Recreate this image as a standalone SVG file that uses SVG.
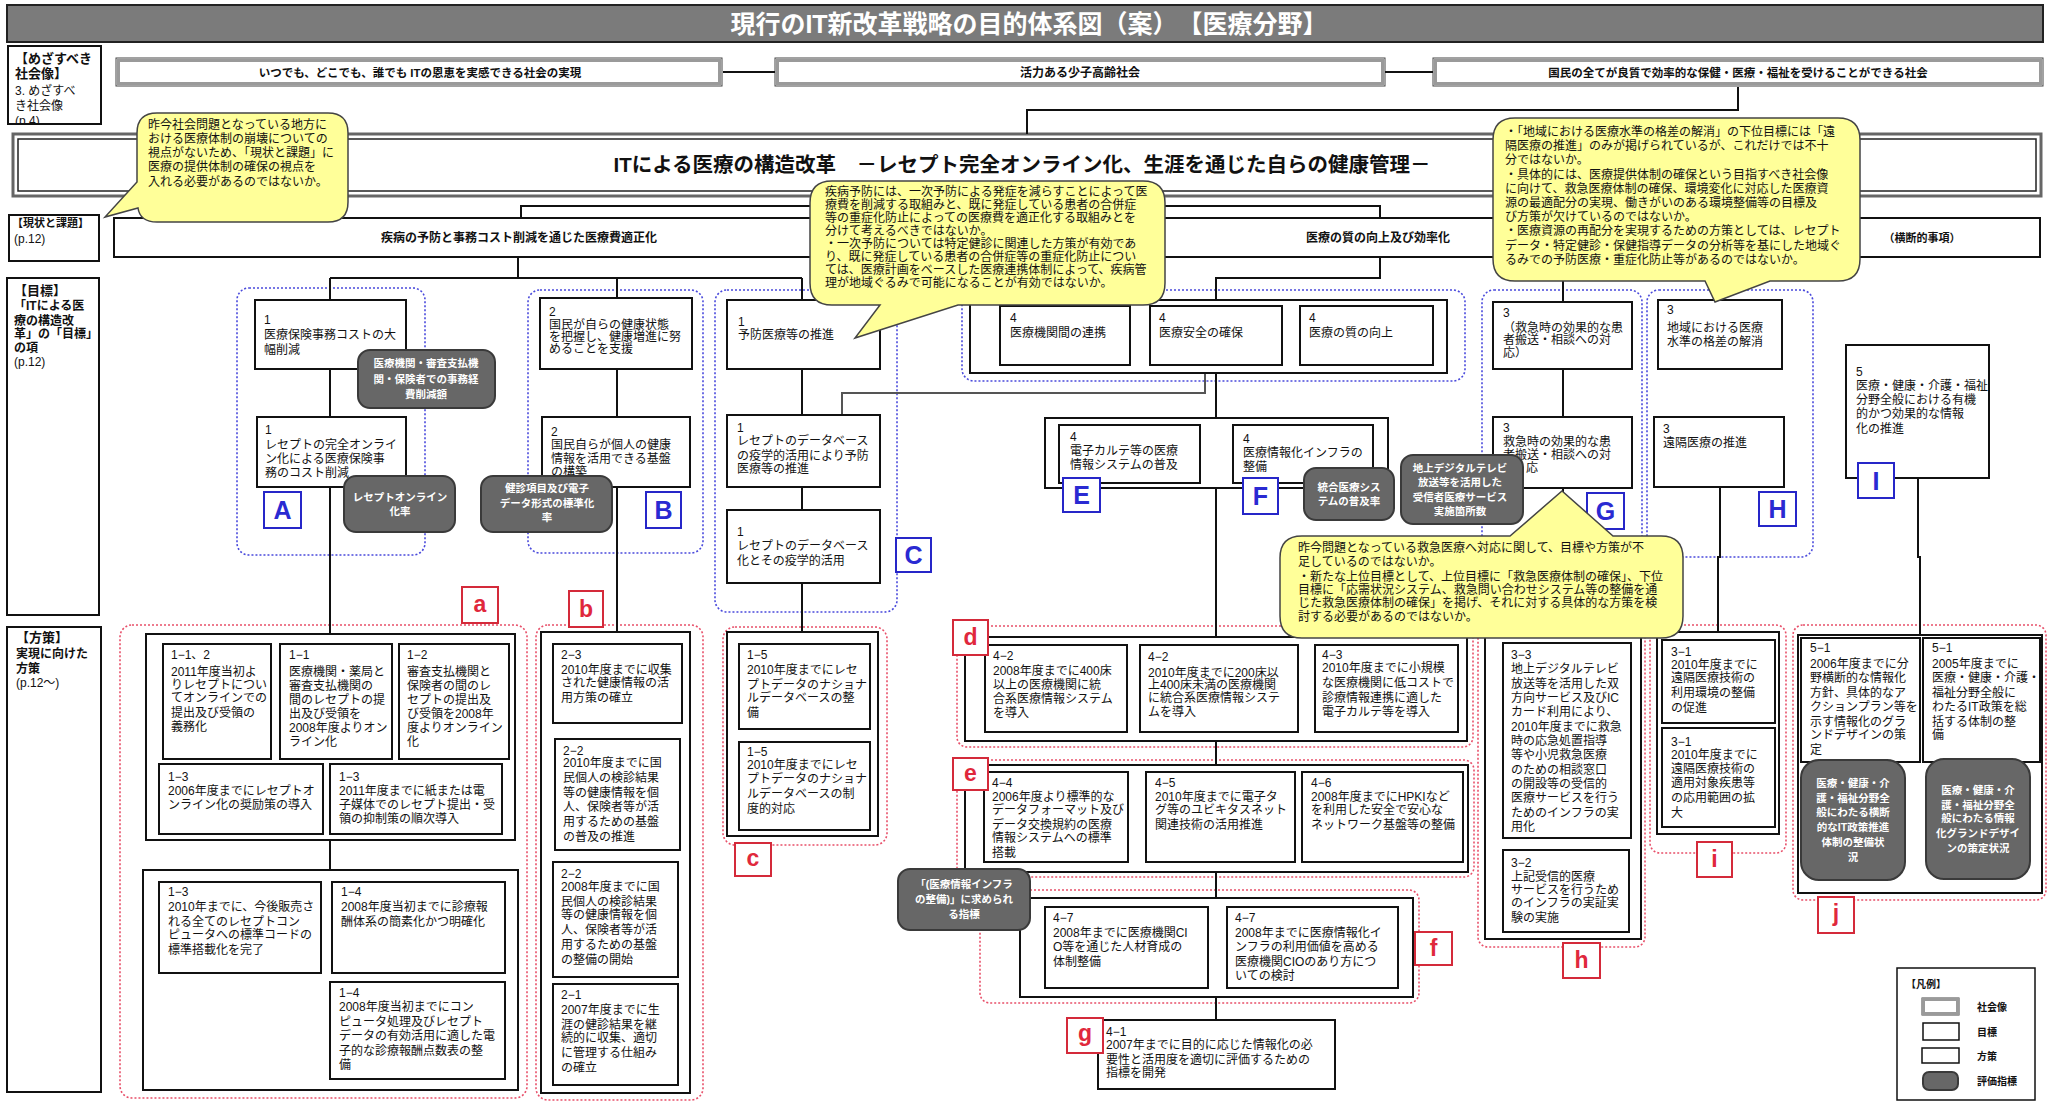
<svg xmlns="http://www.w3.org/2000/svg" width="2049" height="1102" viewBox="0 0 2049 1102">
<style>
text{font-family:'Liberation Sans','Noto Sans CJK JP',sans-serif;fill:#111}
.t{font-size:12px}
.b{font-weight:bold}
.wt{fill:#fff}
.box{fill:#fff;stroke:#111;stroke-width:2}
.soc1{fill:#fff;stroke:#444;stroke-width:1}
.soc2{fill:none;stroke:#9a9a9a;stroke-width:3}
.bg{fill:none;stroke:#4a4adc;stroke-width:1.6;stroke-dasharray:2 2}
.rg{fill:none;stroke:#e8506a;stroke-width:1.6;stroke-dasharray:2 2}
.ln{fill:none;stroke:#111;stroke-width:2}
.ev{fill:#676767;stroke:#3a3a3a;stroke-width:2}
.evt{font-size:10.5px;font-weight:bold;fill:#fff;text-anchor:middle}
.lbB{fill:#fff;stroke:#2626c8;stroke-width:2}
.ltB{font-size:25px;font-weight:bold;fill:#2a2ad2;text-anchor:middle}
.lbR{fill:#fff;stroke:#d42a3a;stroke-width:2}
.ltR{font-size:23px;font-weight:bold;fill:#e0283c;text-anchor:middle}
.cal{fill:#ffff99;stroke:#444;stroke-width:1.5}
</style>
<defs><clipPath id="cp1"><rect x="8" y="46" width="93" height="77"/></clipPath></defs>

<g id="title"><rect x="7" y="5" width="2036" height="37" fill="#7b7b7b" stroke="#222" stroke-width="2"/><text x="1029" y="33" text-anchor="middle" font-size="25" class="b wt">現行のIT新改革戦略の目的体系図（案）　【医療分野】</text></g>

<g id="hdr-society"><rect x="8" y="46" width="93" height="78" class="box"/><text class="t" clip-path="url(#cp1)"><tspan x="15" y="63" class="b" font-size="13">【めざすべき</tspan><tspan x="15" y="78" class="b" font-size="13">社会像】</tspan><tspan x="15" y="95">3. めざすべ</tspan><tspan x="15" y="110">き社会像</tspan><tspan x="15" y="125">(p.4)</tspan></text></g>
<g id="hdr-situation"><rect x="9" y="215" width="90" height="46" class="box"/><text class="t"><tspan x="12" y="227" class="b" font-size="11">【現状と課題】</tspan><tspan x="14" y="243">(p.12)</tspan></text></g>
<g id="hdr-goal"><rect x="7" y="278" width="92" height="337" class="box"/><text class="t"><tspan x="14" y="295" class="b" font-size="13">【目標】</tspan><tspan x="14" y="310" class="b">「ITによる医</tspan><tspan x="14" y="325" class="b">療の構造改</tspan><tspan x="14" y="338" class="b">革」の「目標」</tspan><tspan x="14" y="352" class="b">の項</tspan><tspan x="14" y="366">(p.12)</tspan></text></g>
<g id="hdr-measure"><rect x="7" y="627" width="94" height="465" class="box"/><text class="t"><tspan x="16" y="642" class="b" font-size="13">【方策】</tspan><tspan x="16" y="658" class="b">実現に向けた</tspan><tspan x="16" y="673" class="b">方策</tspan><tspan x="16" y="687">(p.12〜)</tspan></text></g>

<g id="society1"><rect x="116" y="58" width="606" height="28" class="soc1"/><rect x="118.5" y="60.5" width="601" height="23" class="soc2"/><text x="420" y="77" text-anchor="middle" font-size="11.5" class="b">いつでも、どこでも、誰でも ITの恩恵を実感できる社会の実現</text></g>
<g id="society2"><rect x="775" y="58" width="610" height="28" class="soc1"/><rect x="777.5" y="60.5" width="605" height="23" class="soc2"/><text x="1080" y="77" text-anchor="middle" font-size="12" class="b">活力ある少子高齢社会</text></g>
<g id="society3"><rect x="1433" y="58" width="610" height="28" class="soc1"/><rect x="1435.5" y="60.5" width="605" height="23" class="soc2"/><text x="1738" y="77" text-anchor="middle" font-size="11.5" class="b">国民の全てが良質で効率的な保健・医療・福祉を受けることができる社会</text></g>

<g id="vision"><rect x="13" y="134" width="2028" height="62" fill="#fff" stroke="#666" stroke-width="3"/><rect x="18" y="139" width="2018" height="52" fill="none" stroke="#222" stroke-width="1.5"/><text x="1022" y="172" text-anchor="middle" font-size="20.5" class="b">ITによる医療の構造改革　－レセプト完全オンライン化、生涯を通じた自らの健康管理－</text></g>

<g id="situation"><rect x="114" y="218" width="1926" height="39" class="box"/><text class="t b"><tspan x="519" y="242" text-anchor="middle">疾病の予防と事務コスト削減を通じた医療費適正化</tspan><tspan x="1378" y="242" text-anchor="middle">医療の質の向上及び効率化</tspan><tspan x="1922" y="242" text-anchor="middle" font-size="11">（横断的事項）</tspan></text></g>

<g id="groups">
<rect x="237" y="288" width="188" height="267" rx="12" class="bg"/>
<rect x="528" y="290" width="175" height="263" rx="12" class="bg"/>
<rect x="715" y="290" width="182" height="322" rx="12" class="bg"/>
<rect x="962" y="290" width="503" height="91" rx="12" class="bg"/>
<rect x="1482" y="290" width="160" height="265" rx="12" class="bg"/>
<rect x="1647" y="290" width="166" height="267" rx="12" class="bg"/>
<rect x="120" y="625" width="407" height="473" rx="12" class="rg"/>
<rect x="536" y="625" width="167" height="475" rx="12" class="rg"/>
<rect x="723" y="627" width="164" height="218" rx="12" class="rg"/>
<rect x="957" y="626" width="516" height="121" rx="10" class="rg"/>
<rect x="957" y="760" width="517" height="117" rx="10" class="rg"/>
<rect x="980" y="890" width="439" height="113" rx="10" class="rg"/>
<rect x="1478" y="625" width="167" height="322" rx="10" class="rg"/>
<rect x="1650" y="625" width="136" height="228" rx="10" class="rg"/>
<rect x="1793" y="625" width="253" height="275" rx="10" class="rg"/>
</g>

<g id="connectors">
<path class="ln" d="M723,72H775M1385,72H1433M1738,87V110H1027V134"/>
<path class="ln" d="M950,196V206M521,218V206H1380V218"/>
<path class="ln" d="M518,257V278M330,278H802M330,278V300M617,278V298M802,278V300"/>
<path class="ln" d="M330,369V417M330,487V634M330,840V870"/>
<path class="ln" d="M617,369V417M617,487V632M617,723V739M617,977V984"/>
<path class="ln" d="M802,369V415M802,487V510M802,583V632"/>
<path class="ln" d="M1380,257V278H1216V300M1216,373V418M1216,488V637M1216,741V765M1216,872V898M1216,997V1020"/>
<path d="M1205,365V393H842V415" fill="none" stroke="#555" stroke-width="2"/>
<path class="ln" d="M1563,257V302M1563,369V417M1563,488V637"/>
<path class="ln" d="M1720,487V557H1718V632M1918,478V557H1920V635"/>
</g>

<g id="outer-boxes">
<rect x="146" y="634" width="369" height="206" class="box"/>
<rect x="143" y="870" width="375" height="220" class="box"/>
<rect x="541" y="632" width="149" height="461" class="box"/>
<rect x="727" y="632" width="151" height="204" class="box"/>
<rect x="965" y="637" width="502" height="104" class="box"/>
<rect x="965" y="765" width="503" height="107" class="box"/>
<rect x="1020" y="898" width="393" height="99" class="box"/>
<rect x="1485" y="637" width="156" height="302" class="box"/>
<rect x="1657" y="632" width="122" height="202" class="box"/>
<rect x="1798" y="635" width="244" height="258" class="box"/>
<rect x="970" y="300" width="477" height="73" class="box"/>
<rect x="1045" y="418" width="343" height="70" class="box"/>
</g>

<g id="A1"><rect x="255" y="300" width="151" height="69" class="box"/><text class="t"><tspan x="264" y="324">1</tspan><tspan x="264" y="339">医療保険事務コストの大</tspan><tspan x="264" y="354">幅削減</tspan></text></g>
<g id="A2"><rect x="257" y="417" width="149" height="70" class="box"/><text class="t"><tspan x="265" y="434">1</tspan><tspan x="265" y="449">レセプトの完全オンライ</tspan><tspan x="265" y="463">ン化による医療保険事</tspan><tspan x="265" y="477">務のコスト削減</tspan></text></g>
<g id="B1"><rect x="540" y="298" width="152" height="71" class="box"/><text class="t"><tspan x="549" y="316">2</tspan><tspan x="549" y="329">国民が自らの健康状態</tspan><tspan x="549" y="341">を把握し、健康増進に努</tspan><tspan x="549" y="353">めることを支援</tspan></text></g>
<g id="B2"><rect x="542" y="417" width="148" height="70" class="box"/><text class="t"><tspan x="551" y="436">2</tspan><tspan x="551" y="449">国民自らが個人の健康</tspan><tspan x="551" y="463">情報を活用できる基盤</tspan><tspan x="551" y="476">の構築</tspan></text></g>
<g id="C1"><rect x="727" y="300" width="153" height="69" class="box"/><text class="t"><tspan x="738" y="326">1</tspan><tspan x="738" y="339">予防医療等の推進</tspan></text></g>
<g id="C2"><rect x="727" y="415" width="153" height="72" class="box"/><text class="t"><tspan x="737" y="432">1</tspan><tspan x="737" y="445">レセプトのデータベース</tspan><tspan x="737" y="460">の疫学的活用により予防</tspan><tspan x="737" y="473">医療等の推進</tspan></text></g>
<g id="C3"><rect x="727" y="510" width="153" height="73" class="box"/><text class="t"><tspan x="737" y="536">1</tspan><tspan x="737" y="550">レセプトのデータベース</tspan><tspan x="737" y="565">化とその疫学的活用</tspan></text></g>
<g id="D1"><rect x="1000" y="306" width="130" height="59" class="box"/><text class="t"><tspan x="1010" y="322">4</tspan><tspan x="1010" y="337">医療機関間の連携</tspan></text></g>
<g id="D2"><rect x="1150" y="306" width="132" height="59" class="box"/><text class="t"><tspan x="1159" y="322">4</tspan><tspan x="1159" y="337">医療安全の確保</tspan></text></g>
<g id="D3"><rect x="1300" y="306" width="133" height="59" class="box"/><text class="t"><tspan x="1309" y="322">4</tspan><tspan x="1309" y="337">医療の質の向上</tspan></text></g>
<g id="E"><rect x="1059" y="425" width="141" height="58" class="box"/><text class="t"><tspan x="1070" y="441">4</tspan><tspan x="1070" y="455">電子カルテ等の医療</tspan><tspan x="1070" y="469">情報システムの普及</tspan></text></g>
<g id="F"><rect x="1233" y="425" width="140" height="58" class="box"/><text class="t"><tspan x="1243" y="443">4</tspan><tspan x="1243" y="457">医療情報化インフラの</tspan><tspan x="1243" y="471">整備</tspan></text></g>
<g id="G1"><rect x="1493" y="302" width="139" height="67" class="box"/><text class="t"><tspan x="1503" y="317">3</tspan><tspan x="1503" y="332">（救急時の効果的な患</tspan><tspan x="1503" y="344">者搬送・相談への対</tspan><tspan x="1503" y="357">応）</tspan></text></g>
<g id="G2"><rect x="1493" y="417" width="139" height="71" class="box"/><text class="t"><tspan x="1503" y="432">3</tspan><tspan x="1503" y="446">救急時の効果的な患</tspan><tspan x="1503" y="459">者搬送・相談への対</tspan><tspan x="1526" y="472">応</tspan></text></g>
<g id="H1"><rect x="1658" y="300" width="124" height="69" class="box"/><text class="t"><tspan x="1667" y="314">3</tspan><tspan x="1667" y="332">地域における医療</tspan><tspan x="1667" y="346">水準の格差の解消</tspan></text></g>
<g id="H2"><rect x="1654" y="417" width="130" height="70" class="box"/><text class="t"><tspan x="1663" y="433">3</tspan><tspan x="1663" y="447">遠隔医療の推進</tspan></text></g>
<g id="I"><rect x="1846" y="345" width="143" height="133" class="box"/><text class="t" font-size="11"><tspan x="1856" y="376">5</tspan><tspan x="1856" y="390">医療・健康・介護・福祉</tspan><tspan x="1856" y="404">分野全般における有機</tspan><tspan x="1856" y="418">的かつ効果的な情報</tspan><tspan x="1856" y="433">化の推進</tspan></text></g>

<g id="a1"><rect x="163" y="644" width="108" height="115" class="box"/><text class="t"><tspan x="171" y="659">1−1、2</tspan><tspan x="171" y="676">2011年度当初よ</tspan><tspan x="171" y="689">りレセプトについ</tspan><tspan x="171" y="702">てオンラインでの</tspan><tspan x="171" y="717">提出及び受領の</tspan><tspan x="171" y="731">義務化</tspan></text></g>
<g id="a2"><rect x="280" y="644" width="112" height="115" class="box"/><text class="t"><tspan x="289" y="659">1−1</tspan><tspan x="289" y="676">医療機関・薬局と</tspan><tspan x="289" y="690">審査支払機関の</tspan><tspan x="289" y="704">間のレセプトの提</tspan><tspan x="289" y="718">出及び受領を</tspan><tspan x="289" y="732">2008年度よりオン</tspan><tspan x="289" y="746">ライン化</tspan></text></g>
<g id="a3"><rect x="399" y="644" width="110" height="115" class="box"/><text class="t"><tspan x="407" y="659">1−2</tspan><tspan x="407" y="676">審査支払機関と</tspan><tspan x="407" y="690">保険者の間のレ</tspan><tspan x="407" y="704">セプトの提出及</tspan><tspan x="407" y="718">び受領を2008年</tspan><tspan x="407" y="732">度よりオンライン</tspan><tspan x="407" y="746">化</tspan></text></g>
<g id="a4"><rect x="159" y="764" width="164" height="70" class="box"/><text class="t"><tspan x="168" y="781">1−3</tspan><tspan x="168" y="795">2006年度までにレセプトオ</tspan><tspan x="168" y="809">ンライン化の奨励策の導入</tspan></text></g>
<g id="a5"><rect x="330" y="764" width="172" height="70" class="box"/><text class="t"><tspan x="339" y="781">1−3</tspan><tspan x="339" y="795">2011年度までに紙または電</tspan><tspan x="339" y="809">子媒体でのレセプト提出・受</tspan><tspan x="339" y="823">領の抑制策の順次導入</tspan></text></g>
<g id="a6"><rect x="159" y="882" width="162" height="91" class="box"/><text class="t"><tspan x="168" y="896">1−3</tspan><tspan x="168" y="911">2010年までに、今後販売さ</tspan><tspan x="168" y="926">れる全てのレセプトコン</tspan><tspan x="168" y="939">ピュータへの標準コードの</tspan><tspan x="168" y="954">標準搭載化を完了</tspan></text></g>
<g id="a7"><rect x="332" y="882" width="173" height="91" class="box"/><text class="t"><tspan x="341" y="896">1−4</tspan><tspan x="341" y="911">2008年度当初までに診療報</tspan><tspan x="341" y="926">酬体系の簡素化かつ明確化</tspan></text></g>
<g id="a8"><rect x="330" y="982" width="175" height="97" class="box"/><text class="t"><tspan x="339" y="997">1−4</tspan><tspan x="339" y="1011">2008年度当初までにコン</tspan><tspan x="339" y="1026">ピュータ処理及びレセプト</tspan><tspan x="339" y="1040">データの有効活用に適した電</tspan><tspan x="339" y="1055">子的な診療報酬点数表の整</tspan><tspan x="339" y="1069">備</tspan></text></g>

<g id="b1"><rect x="553" y="644" width="129" height="79" class="box"/><text class="t"><tspan x="561" y="659">2−3</tspan><tspan x="561" y="674">2010年度までに収集</tspan><tspan x="561" y="687">された健康情報の活</tspan><tspan x="561" y="702">用方策の確立</tspan></text></g>
<g id="b2"><rect x="555" y="739" width="125" height="111" class="box"/><text class="t"><tspan x="563" y="755">2−2</tspan><tspan x="563" y="767">2010年度までに国</tspan><tspan x="563" y="782">民個人の検診結果</tspan><tspan x="563" y="797">等の健康情報を個</tspan><tspan x="563" y="811">人、保険者等が活</tspan><tspan x="563" y="826">用するための基盤</tspan><tspan x="563" y="841">の普及の推進</tspan></text></g>
<g id="b3"><rect x="553" y="862" width="125" height="115" class="box"/><text class="t"><tspan x="561" y="878">2−2</tspan><tspan x="561" y="891">2008年度までに国</tspan><tspan x="561" y="906">民個人の検診結果</tspan><tspan x="561" y="919">等の健康情報を個</tspan><tspan x="561" y="934">人、保険者等が活</tspan><tspan x="561" y="949">用するための基盤</tspan><tspan x="561" y="964">の整備の開始</tspan></text></g>
<g id="b4"><rect x="553" y="984" width="125" height="101" class="box"/><text class="t"><tspan x="561" y="999">2−1</tspan><tspan x="561" y="1014">2007年度までに生</tspan><tspan x="561" y="1029">涯の健診結果を継</tspan><tspan x="561" y="1042">続的に収集、適切</tspan><tspan x="561" y="1057">に管理する仕組み</tspan><tspan x="561" y="1072">の確立</tspan></text></g>

<g id="c1"><rect x="739" y="644" width="131" height="85" class="box"/><text class="t"><tspan x="747" y="659">1−5</tspan><tspan x="747" y="674">2010年度までにレセ</tspan><tspan x="747" y="689">プトデータのナショナ</tspan><tspan x="747" y="702">ルデータベースの整</tspan><tspan x="747" y="717">備</tspan></text></g>
<g id="c2"><rect x="739" y="742" width="131" height="88" class="box"/><text class="t"><tspan x="747" y="756">1−5</tspan><tspan x="747" y="769">2010年度までにレセ</tspan><tspan x="747" y="783">プトデータのナショナ</tspan><tspan x="747" y="798">ルデータベースの制</tspan><tspan x="747" y="813">度的対応</tspan></text></g>

<g id="d1"><rect x="985" y="645" width="142" height="87" class="box"/><text class="t"><tspan x="993" y="660">4−2</tspan><tspan x="993" y="675">2008年度までに400床</tspan><tspan x="993" y="689">以上の医療機関に統</tspan><tspan x="993" y="703">合系医療情報システム</tspan><tspan x="993" y="717">を導入</tspan></text></g>
<g id="d2"><rect x="1140" y="645" width="158" height="87" class="box"/><text class="t"><tspan x="1148" y="661">4−2</tspan><tspan x="1148" y="677">2010年度までに200床以</tspan><tspan x="1148" y="689">上400床未満の医療機関</tspan><tspan x="1148" y="702">に統合系医療情報システ</tspan><tspan x="1148" y="716">ムを導入</tspan></text></g>
<g id="d3"><rect x="1315" y="645" width="143" height="87" class="box"/><text class="t"><tspan x="1322" y="659">4−3</tspan><tspan x="1322" y="672">2010年度までに小規模</tspan><tspan x="1322" y="687">な医療機関に低コストで</tspan><tspan x="1322" y="702">診療情報連携に適した</tspan><tspan x="1322" y="716">電子カルテ等を導入</tspan></text></g>

<g id="e1"><rect x="984" y="772" width="144" height="90" class="box"/><text class="t"><tspan x="992" y="787">4−4</tspan><tspan x="992" y="801">2006年度より標準的な</tspan><tspan x="992" y="814">データフォーマット及び</tspan><tspan x="992" y="829">データ交換規約の医療</tspan><tspan x="992" y="842">情報システムへの標準</tspan><tspan x="992" y="857">搭載</tspan></text></g>
<g id="e2"><rect x="1146" y="772" width="149" height="90" class="box"/><text class="t"><tspan x="1155" y="787">4−5</tspan><tspan x="1155" y="801">2010年度までに電子タ</tspan><tspan x="1155" y="814">グ等のユビキタスネット</tspan><tspan x="1155" y="829">関連技術の活用推進</tspan></text></g>
<g id="e3"><rect x="1302" y="772" width="161" height="90" class="box"/><text class="t"><tspan x="1311" y="787">4−6</tspan><tspan x="1311" y="801">2008年度までにHPKIなど</tspan><tspan x="1311" y="814">を利用した安全で安心な</tspan><tspan x="1311" y="829">ネットワーク基盤等の整備</tspan></text></g>

<g id="f1"><rect x="1045" y="907" width="163" height="81" class="box"/><text class="t"><tspan x="1053" y="922">4−7</tspan><tspan x="1053" y="937">2008年までに医療機関CI</tspan><tspan x="1053" y="951">O等を通じた人材育成の</tspan><tspan x="1053" y="966">体制整備</tspan></text></g>
<g id="f2"><rect x="1227" y="907" width="171" height="81" class="box"/><text class="t"><tspan x="1235" y="922">4−7</tspan><tspan x="1235" y="937">2008年までに医療情報化イ</tspan><tspan x="1235" y="951">ンフラの利用価値を高める</tspan><tspan x="1235" y="966">医療機関CIOのあり方につ</tspan><tspan x="1235" y="980">いての検討</tspan></text></g>
<g id="g1"><rect x="1098" y="1020" width="237" height="69" class="box"/><text class="t"><tspan x="1106" y="1036">4−1</tspan><tspan x="1106" y="1049">2007年までに目的に応じた情報化の必</tspan><tspan x="1106" y="1064">要性と活用度を適切に評価するための</tspan><tspan x="1106" y="1077">指標を開発</tspan></text></g>

<g id="h1"><rect x="1503" y="643" width="128" height="195" class="box"/><text class="t"><tspan x="1511" y="659">3−3</tspan><tspan x="1511" y="673">地上デジタルテレビ</tspan><tspan x="1511" y="688">放送等を活用した双</tspan><tspan x="1511" y="702">方向サービス及びIC</tspan><tspan x="1511" y="716">カード利用により、</tspan><tspan x="1511" y="731">2010年度までに救急</tspan><tspan x="1511" y="745">時の応急処置指導</tspan><tspan x="1511" y="759">等や小児救急医療</tspan><tspan x="1511" y="774">のための相談窓口</tspan><tspan x="1511" y="788">の開設等の受信的</tspan><tspan x="1511" y="802">医療サービスを行う</tspan><tspan x="1511" y="817">ためのインフラの実</tspan><tspan x="1511" y="831">用化</tspan></text></g>
<g id="h2"><rect x="1503" y="850" width="126" height="82" class="box"/><text class="t"><tspan x="1511" y="867">3−2</tspan><tspan x="1511" y="881">上記受信的医療</tspan><tspan x="1511" y="894">サービスを行うため</tspan><tspan x="1511" y="907">のインフラの実証実</tspan><tspan x="1511" y="922">験の実施</tspan></text></g>
<g id="i1"><rect x="1662" y="640" width="113" height="83" class="box"/><text class="t"><tspan x="1671" y="656">3−1</tspan><tspan x="1671" y="669">2010年度までに</tspan><tspan x="1671" y="682">遠隔医療技術の</tspan><tspan x="1671" y="697">利用環境の整備</tspan><tspan x="1671" y="712">の促進</tspan></text></g>
<g id="i2"><rect x="1662" y="728" width="113" height="99" class="box"/><text class="t"><tspan x="1671" y="746">3−1</tspan><tspan x="1671" y="759">2010年度までに</tspan><tspan x="1671" y="773">遠隔医療技術の</tspan><tspan x="1671" y="787">適用対象疾患等</tspan><tspan x="1671" y="802">の応用範囲の拡</tspan><tspan x="1671" y="817">大</tspan></text></g>
<g id="j1"><rect x="1801" y="638" width="119" height="124" class="box"/><text class="t" font-size="11.5"><tspan x="1810" y="652">5−1</tspan><tspan x="1810" y="668">2006年度までに分</tspan><tspan x="1810" y="682">野横断的な情報化</tspan><tspan x="1810" y="697">方針、具体的なア</tspan><tspan x="1810" y="711">クションプラン等を</tspan><tspan x="1810" y="726">示す情報化のグラ</tspan><tspan x="1810" y="739">ンドデザインの策</tspan><tspan x="1810" y="754">定</tspan></text></g>
<g id="j2"><rect x="1923" y="638" width="117" height="124" class="box"/><text class="t" font-size="11.5"><tspan x="1932" y="652">5−1</tspan><tspan x="1932" y="668">2005年度までに</tspan><tspan x="1932" y="682">医療・健康・介護・</tspan><tspan x="1932" y="697">福祉分野全般に</tspan><tspan x="1932" y="711">わたるIT政策を総</tspan><tspan x="1932" y="726">括する体制の整</tspan><tspan x="1932" y="739">備</tspan></text></g>

<g id="ev-A1"><rect x="358" y="350" width="137" height="58" rx="12" class="ev"/><text class="evt"><tspan x="426" y="367">医療機関・審査支払機</tspan><tspan x="426" y="383">関・保険者での事務経</tspan><tspan x="426" y="398">費削減額</tspan></text></g>
<g id="ev-A2"><rect x="344" y="476" width="111" height="56" rx="12" class="ev"/><text class="evt"><tspan x="400" y="501">レセプトオンライン</tspan><tspan x="400" y="515">化率</tspan></text></g>
<g id="ev-B"><rect x="481" y="476" width="131" height="56" rx="12" class="ev"/><text class="evt"><tspan x="547" y="492">健診項目及び電子</tspan><tspan x="547" y="507">データ形式の標準化</tspan><tspan x="547" y="521">率</tspan></text></g>
<g id="ev-E"><rect x="1304" y="468" width="90" height="52" rx="12" class="ev"/><text class="evt"><tspan x="1349" y="491">統合医療シス</tspan><tspan x="1349" y="505">テムの普及率</tspan></text></g>
<g id="ev-F"><rect x="1401" y="455" width="122" height="69" rx="12" class="ev"/><text class="evt"><tspan x="1460" y="472">地上デジタルテレビ</tspan><tspan x="1460" y="486">放送等を活用した</tspan><tspan x="1460" y="501">受信者医療サービス</tspan><tspan x="1460" y="515">実施箇所数</tspan></text></g>
<g id="ev-f"><rect x="898" y="869" width="132" height="61" rx="12" class="ev"/><text class="evt"><tspan x="964" y="888">「(医療情報インフラ</tspan><tspan x="964" y="903">の整備)」に求められ</tspan><tspan x="964" y="918">る指標</tspan></text></g>
<g id="ev-j1"><rect x="1801" y="760" width="104" height="120" rx="18" class="ev"/><text class="evt"><tspan x="1853" y="787">医療・健康・介</tspan><tspan x="1853" y="802">護・福祉分野全</tspan><tspan x="1853" y="816">般にわたる横断</tspan><tspan x="1853" y="831">的なIT政策推進</tspan><tspan x="1853" y="846">体制の整備状</tspan><tspan x="1853" y="861">況</tspan></text></g>
<g id="ev-j2"><rect x="1926" y="759" width="104" height="120" rx="18" class="ev"/><text class="evt"><tspan x="1978" y="794">医療・健康・介</tspan><tspan x="1978" y="809">護・福祉分野全</tspan><tspan x="1978" y="822">般にわたる情報</tspan><tspan x="1978" y="837">化グランドデザイ</tspan><tspan x="1978" y="852">ンの策定状況</tspan></text></g>

<g id="labels">
<rect x="264" y="492" width="37" height="36" class="lbB"/><text x="282.5" y="519" class="ltB">A</text>
<rect x="646" y="492" width="35" height="36" class="lbB"/><text x="663.5" y="519" class="ltB">B</text>
<rect x="896" y="538" width="35" height="34" class="lbB"/><text x="913.5" y="564" class="ltB">C</text>
<rect x="1063" y="478" width="37" height="34" class="lbB"/><text x="1081.5" y="504" class="ltB">E</text>
<rect x="1243" y="478" width="35" height="36" class="lbB"/><text x="1260.5" y="505" class="ltB">F</text>
<rect x="1587" y="493" width="37" height="36" class="lbB"/><text x="1605.5" y="520" class="ltB">G</text>
<rect x="1759" y="492" width="37" height="34" class="lbB"/><text x="1777.5" y="518" class="ltB">H</text>
<rect x="1858" y="463" width="36" height="35" class="lbB"/><text x="1876" y="490" class="ltB">I</text>
<rect x="462" y="587" width="36" height="36" class="lbR"/><text x="480" y="612" class="ltR">a</text>
<rect x="569" y="591" width="34" height="36" class="lbR"/><text x="586" y="617" class="ltR">b</text>
<rect x="735" y="843" width="36" height="33" class="lbR"/><text x="753" y="866" class="ltR">c</text>
<rect x="953" y="620" width="35" height="35" class="lbR"/><text x="970.5" y="645" class="ltR">d</text>
<rect x="953" y="758" width="35" height="32" class="lbR"/><text x="970.5" y="781" class="ltR">e</text>
<rect x="1415" y="932" width="37" height="33" class="lbR"/><text x="1433.5" y="956" class="ltR">f</text>
<rect x="1067" y="1018" width="36" height="35" class="lbR"/><text x="1085" y="1041" class="ltR">g</text>
<rect x="1563" y="943" width="37" height="35" class="lbR"/><text x="1581.5" y="968" class="ltR">h</text>
<rect x="1697" y="842" width="35" height="35" class="lbR"/><text x="1714.5" y="867" class="ltR">i</text>
<rect x="1818" y="897" width="36" height="36" class="lbR"/><text x="1836" y="921" class="ltR">j</text>
</g>

<g id="callout1"><path class="cal" d="M157,113H328Q348,113 348,133V202Q348,222 328,222H157Q140,222 138,208L105,217L137,182V133Q137,113 157,113Z"/><text class="t"><tspan x="148" y="129">昨今社会問題となっている地方に</tspan><tspan x="148" y="143">おける医療体制の崩壊についての</tspan><tspan x="148" y="157">視点がないため、「現状と課題」に</tspan><tspan x="148" y="171">医療の提供体制の確保の視点を</tspan><tspan x="148" y="186">入れる必要があるのではないか。</tspan></text></g>
<g id="callout2"><path class="cal" d="M832,181H1143Q1165,181 1165,203V283Q1165,305 1143,305H958L855,338L880,305H832Q810,305 810,283V203Q810,181 832,181Z"/><text class="t"><tspan x="825" y="196">疾病予防には、一次予防による発症を減らすことによって医</tspan><tspan x="825" y="209">療費を削減する取組みと、既に発症している患者の合併症</tspan><tspan x="825" y="222">等の重症化防止によっての医療費を適正化する取組みとを</tspan><tspan x="825" y="235">分けて考えるべきではないか。</tspan><tspan x="825" y="248">・一次予防については特定健診に関連した方策が有効であ</tspan><tspan x="825" y="261">り、既に発症している患者の合併症等の重症化防止につい</tspan><tspan x="825" y="274">ては、医療計画をベースした医療連携体制によって、疾病管</tspan><tspan x="825" y="287">理が地域ぐるみで可能になることが有効ではないか。</tspan></text></g>
<g id="callout3"><path class="cal" d="M1515,118H1838Q1860,118 1860,140V259Q1860,281 1838,281H1770L1715,302L1705,281H1515Q1493,281 1493,259V140Q1493,118 1515,118Z"/><text class="t"><tspan x="1505" y="136">・「地域における医療水準の格差の解消」の下位目標には「遠</tspan><tspan x="1505" y="150">隔医療の推進」のみが掲げられているが、これだけでは不十</tspan><tspan x="1505" y="164">分ではないか。</tspan><tspan x="1505" y="179">・具体的には、医療提供体制の確保という目指すべき社会像</tspan><tspan x="1505" y="193">に向けて、救急医療体制の確保、環境変化に対応した医療資</tspan><tspan x="1505" y="207">源の最適配分の実現、働きがいのある環境整備等の目標及</tspan><tspan x="1505" y="221">び方策が欠けているのではないか。</tspan><tspan x="1505" y="235">・医療資源の再配分を実現するための方策としては、レセプト</tspan><tspan x="1505" y="250">データ・特定健診・保健指導データの分析等を基にした地域ぐ</tspan><tspan x="1505" y="264">るみでの予防医療・重症化防止等があるのではないか。</tspan></text></g>
<g id="callout4"><path class="cal" d="M1302,536H1510L1562,491L1613,536H1661Q1683,536 1683,558V616Q1683,638 1661,638H1302Q1280,638 1280,616V558Q1280,536 1302,536Z"/><text class="t"><tspan x="1298" y="552">昨今問題となっている救急医療へ対応に関して、目標や方策が不</tspan><tspan x="1298" y="566">足しているのではないか。</tspan><tspan x="1298" y="581">・新たな上位目標として、上位目標に「救急医療体制の確保」、下位</tspan><tspan x="1298" y="594">目標に「応需状況システム、救急問い合わせシステム等の整備を通</tspan><tspan x="1298" y="607">じた救急医療体制の確保」を掲げ、それに対する具体的な方策を検</tspan><tspan x="1298" y="621">討する必要があるのではないか。</tspan></text></g>

<g id="legend"><rect x="1897" y="968" width="138" height="132" fill="#fff" stroke="#111" stroke-width="1.5"/><text x="1906" y="988" font-size="10" class="b">【凡例】</text>
<rect x="1922" y="998" width="37" height="17" class="soc1"/><rect x="1923.5" y="999.5" width="34" height="14" class="soc2"/><text x="1977" y="1011" font-size="10" class="b">社会像</text>
<rect x="1923" y="1023" width="36" height="17" fill="#fff" stroke="#111" stroke-width="1.5"/><text x="1977" y="1036" font-size="10" class="b">目標</text>
<rect x="1922" y="1048" width="37" height="15" fill="#fff" stroke="#111" stroke-width="1.5"/><text x="1977" y="1060" font-size="10" class="b">方策</text>
<rect x="1923" y="1072" width="35" height="18" rx="6" class="ev"/><text x="1977" y="1085" font-size="10" class="b">評価指標</text></g>
</svg>
